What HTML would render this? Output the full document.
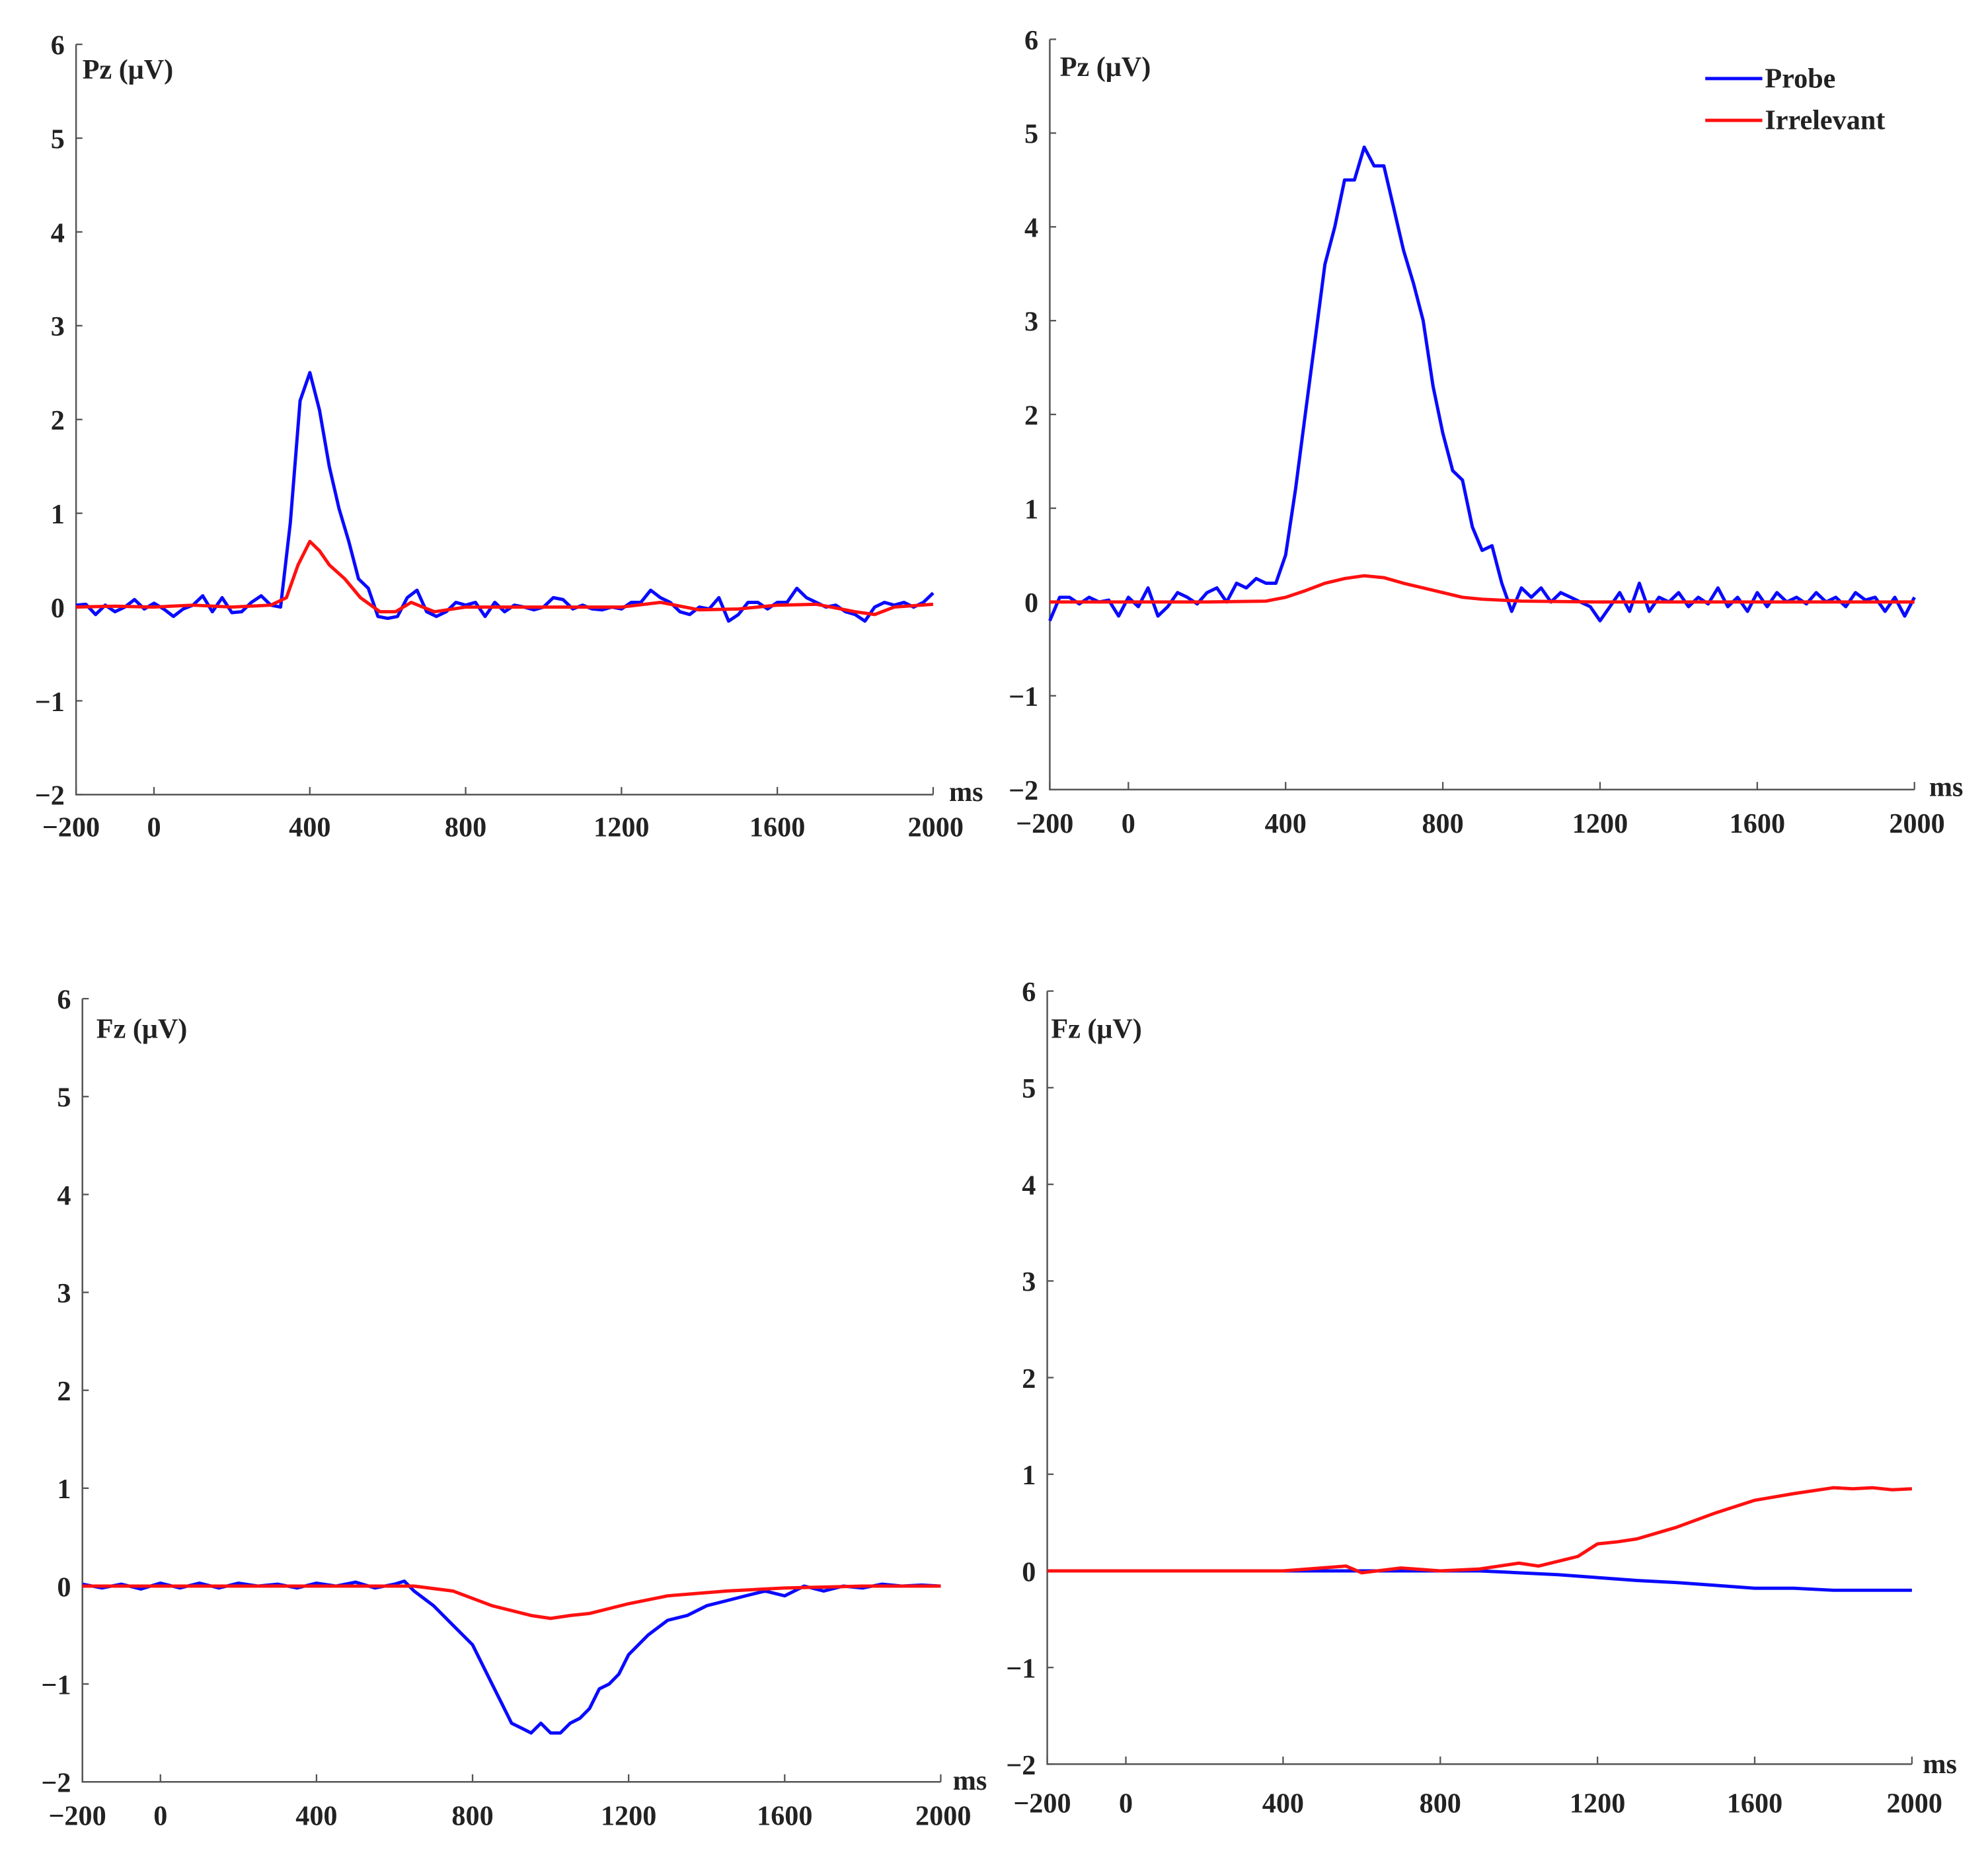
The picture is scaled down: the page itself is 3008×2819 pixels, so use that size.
<!DOCTYPE html>
<html><head><meta charset="utf-8"><style>
html,body{margin:0;padding:0;background:#fff}
svg{display:block}
text{font-family:"Liberation Serif",serif;font-weight:bold;fill:#222}
</style></head><body>
<svg id="fig" width="3008" height="2819" viewBox="0 0 1568 1470" preserveAspectRatio="none" xmlns="http://www.w3.org/2000/svg"></svg>
<script>
// ---- data ----
const xTicks = [-200, 0, 400, 800, 1200, 1600, 2000];
const yTicks = [-2, -1, 0, 1, 2, 3, 4, 5, 6];
const panelTitles = ["Pz (\u03bcV)", "Pz (\u03bcV)", "Fz (\u03bcV)", "Fz (\u03bcV)"];
const legendLabels = ["Probe", "Irrelevant"];

const pzL_probe_t = [-200,-175,-150,-125,-100,-75,-50,-25,0,25,50,75,100,125,150,175,200,225,250,275,300,325,350,375,400,425,450,475,500,525,550,575,600,625,650,675,700,725,750,775,800,825,850,875,900,925,950,975,1000,1025,1050,1075,1100,1125,1150,1175,1200,1225,1250,1275,1300,1325,1350,1375,1400,1425,1450,1475,1500,1525,1550,1575,1600,1625,1650,1675,1700,1725,1750,1775,1800,1825,1850,1875,1900,1925,1950,1975,2000];
const pzL_probe_v = [0.02,0.03,-0.08,0.02,-0.05,0,0.08,-0.02,0.04,-0.02,-0.1,-0.02,0.02,0.12,-0.05,0.1,-0.06,-0.05,0.05,0.12,0.02,0,0.9,2.2,2.5,2.1,1.5,1.05,0.7,0.3,0.2,-0.1,-0.12,-0.1,0.1,0.18,-0.05,-0.1,-0.05,0.05,0.02,0.05,-0.1,0.05,-0.05,0.02,0,-0.03,0,0.1,0.08,-0.02,0.02,-0.02,-0.03,0,-0.02,0.05,0.05,0.18,0.1,0.05,-0.05,-0.08,0,-0.02,0.1,-0.15,-0.08,0.05,0.05,-0.02,0.05,0.05,0.2,0.1,0.05,0,0.02,-0.05,-0.08,-0.15,0,0.05,0.02,0.05,0,0.05,0.15];
const pzL_irr_t = [-200,-100,0,100,200,300,340,370,400,425,450,490,530,580,620,660,720,800,900,1000,1100,1200,1300,1400,1500,1600,1700,1800,1850,1900,2000];
const pzL_irr_v = [0,0.01,0,0.02,0,0.02,0.1,0.45,0.7,0.6,0.45,0.3,0.1,-0.05,-0.05,0.05,-0.05,0,0,0,0,0,0.05,-0.03,-0.02,0.02,0.03,-0.05,-0.08,0,0.03];

const pzR_probe_t = [-200,-175,-150,-125,-100,-75,-50,-25,0,25,50,75,100,125,150,175,200,225,250,275,300,325,350,375,400,425,450,475,500,525,550,575,600,625,650,675,700,725,750,775,800,825,850,875,900,925,950,975,1000,1025,1050,1075,1100,1125,1150,1175,1200,1225,1250,1275,1300,1325,1350,1375,1400,1425,1450,1475,1500,1525,1550,1575,1600,1625,1650,1675,1700,1725,1750,1775,1800,1825,1850,1875,1900,1925,1950,1975,2000];
const pzR_probe_v = [-0.2,0.05,0.05,-0.02,0.05,0,0.02,-0.15,0.05,-0.05,0.15,-0.15,-0.05,0.1,0.05,-0.02,0.1,0.15,0,0.2,0.15,0.25,0.2,0.2,0.5,1.2,2.0,2.8,3.6,4.0,4.5,4.5,4.85,4.65,4.65,4.2,3.75,3.4,3.0,2.3,1.8,1.4,1.3,0.8,0.55,0.6,0.2,-0.1,0.15,0.05,0.15,0,0.1,0.05,0,-0.05,-0.2,-0.05,0.1,-0.1,0.2,-0.1,0.05,0,0.1,-0.05,0.05,-0.02,0.15,-0.05,0.05,-0.1,0.1,-0.05,0.1,0,0.05,-0.02,0.1,0,0.05,-0.05,0.1,0.02,0.05,-0.1,0.05,-0.15,0.05];
const pzR_irr_t = [-200,0,200,350,400,450,500,550,600,650,700,750,800,850,900,1000,1200,1400,1600,1800,2000];
const pzR_irr_v = [0,0,0,0.01,0.05,0.12,0.2,0.25,0.28,0.26,0.2,0.15,0.1,0.05,0.03,0.01,0,0,0,0,0];

const fzL_probe_t = [-200,-150,-100,-50,0,50,100,150,200,250,300,350,400,450,500,550,600,625,650,700,750,800,825,850,875,900,925,950,975,1000,1025,1050,1075,1100,1125,1150,1175,1200,1250,1300,1350,1400,1450,1500,1550,1600,1650,1700,1750,1800,1850,1900,1950,2000];
const fzL_probe_v = [0.02,-0.02,0.02,-0.03,0.03,-0.02,0.03,-0.02,0.03,0,0.02,-0.02,0.03,0,0.04,-0.02,0.02,0.05,-0.05,-0.2,-0.4,-0.6,-0.8,-1.0,-1.2,-1.4,-1.45,-1.5,-1.4,-1.5,-1.5,-1.4,-1.35,-1.25,-1.05,-1.0,-0.9,-0.7,-0.5,-0.35,-0.3,-0.2,-0.15,-0.1,-0.05,-0.1,0,-0.05,0,-0.02,0.02,0,0.01,0];
const fzL_irr_t = [-200,0,200,400,600,650,750,850,950,1000,1050,1100,1200,1300,1450,1600,1800,2000];
const fzL_irr_v = [0,0,0,0,0,0,-0.05,-0.2,-0.3,-0.33,-0.3,-0.28,-0.18,-0.1,-0.05,-0.02,0,0];

const fzR_probe_t = [-200,0,400,800,900,1000,1100,1200,1300,1400,1500,1600,1700,1800,1900,2000];
const fzR_probe_v = [0,0,0,0,0,-0.02,-0.04,-0.07,-0.1,-0.12,-0.15,-0.18,-0.18,-0.2,-0.2,-0.2];
const fzR_irr_t = [-200,0,200,400,560,600,700,800,900,950,1000,1050,1100,1150,1200,1250,1300,1400,1500,1600,1700,1800,1850,1900,1950,2000];
const fzR_irr_v = [0,0,0,0,0.05,-0.02,0.03,0,0.02,0.05,0.08,0.05,0.1,0.15,0.28,0.3,0.33,0.45,0.6,0.73,0.8,0.86,0.85,0.86,0.84,0.85];

// ---- layout (display coords, viewBox 1568x1470) ----
const panels = [
 {x0:60,x1:736,yTop:35,yBot:627,lx:762,ly:625,tlx:65,tly:55,tickY:652,
  probe:[pzL_probe_t,pzL_probe_v],irr:[pzL_irr_t,pzL_irr_v],name:"pz-left"},
 {x0:828,x1:1510,yTop:31,yBot:623,lx:1535,ly:621,tlx:836,tly:53,tickY:649,
  probe:[pzR_probe_t,pzR_probe_v],irr:[pzR_irr_t,pzR_irr_v],name:"pz-right",legend:true},
 {x0:65,x1:742,yTop:788,yBot:1406,lx:765,ly:1405,tlx:76,tly:812,tickY:1432,
  probe:[fzL_probe_t,fzL_probe_v],irr:[fzL_irr_t,fzL_irr_v],name:"fz-left"},
 {x0:826,x1:1508,yTop:782,yBot:1392,lx:1530,ly:1392,tlx:829,tly:812,tickY:1422,
  probe:[fzR_probe_t,fzR_probe_v],irr:[fzR_irr_t,fzR_irr_v],name:"fz-right"}
];
const NS="http://www.w3.org/2000/svg";
const svg=document.getElementById('fig');
function mk(tag,attrs,parent){const e=document.createElementNS(NS,tag);for(const k in attrs)e.setAttribute(k,attrs[k]);(parent||svg).appendChild(e);return e;}

panels.forEach((p,pi)=>{
  const g=mk('g',{});
  
  
  const xs=t=>p.x0+(t+200)/2200*(p.x1-p.x0);
  const ys=v=>p.yBot-(v+2)/8*(p.yBot-p.yTop);
  // axes
  const ax=mk('path',{d:`M${p.x0},${p.yTop}L${p.x0},${p.yBot}L${p.x1},${p.yBot}`,fill:'none',stroke:'#555','stroke-width':1.3},g);
  
  
  yTicks.forEach(v=>{
    mk('line',{x1:p.x0,x2:p.x0+5,y1:ys(v),y2:ys(v),stroke:'#555','stroke-width':1.2},g);
    const t=mk('text',{x:p.x0-9,y:ys(v)+8,'text-anchor':'end','font-size':22},g);
    t.textContent=(v<0?'\u2212':'')+Math.abs(v);
    
    
  });
  xTicks.forEach(v=>{
    mk('line',{x1:xs(v),x2:xs(v),y1:p.yBot,y2:p.yBot-6,stroke:'#555','stroke-width':1.2},g);
    const t=mk('text',{x:xs(v)+(v===-200?-4:0)+(v===2000?2:0),y:p.tickY+8,'text-anchor':'middle','font-size':22},g);
    t.textContent=(v<0?'\u2212':'')+Math.abs(v);
    
    
  });
  const ms=mk('text',{x:p.lx,y:p.ly+7,'text-anchor':'middle','font-size':22},g);
  ms.textContent='ms';
  
  
  const ti=mk('text',{x:p.tlx,y:p.tly+7,'font-size':22},g);
  ti.textContent=panelTitles[pi];
  
  
  [[p.probe,'#0a0aff','probe-line'],[p.irr,'#ff1010','irrelevant-line']].forEach(([s,c,n])=>{
    const d=s[0].map((t,i)=>(i?'L':'M')+xs(t).toFixed(1)+','+ys(s[1][i]).toFixed(1)).join('');
    const l=mk('path',{d:d,fill:'none',stroke:c,'stroke-width':2.6,'stroke-linejoin':'round'},g);
    
    
  });
  if(p.legend){
    [['#0a0aff',62],['#ff1010',95]].forEach(([c,y],i)=>{
      const lg=mk('g',{},g);
      
      
      mk('line',{x1:1345,x2:1390,y1:y,y2:y,stroke:c,'stroke-width':2.6},lg);
      const t=mk('text',{x:1392,y:y+7,'font-size':22},lg);
      t.textContent=legendLabels[i];
    });
  }
});
</script>
</body></html>
